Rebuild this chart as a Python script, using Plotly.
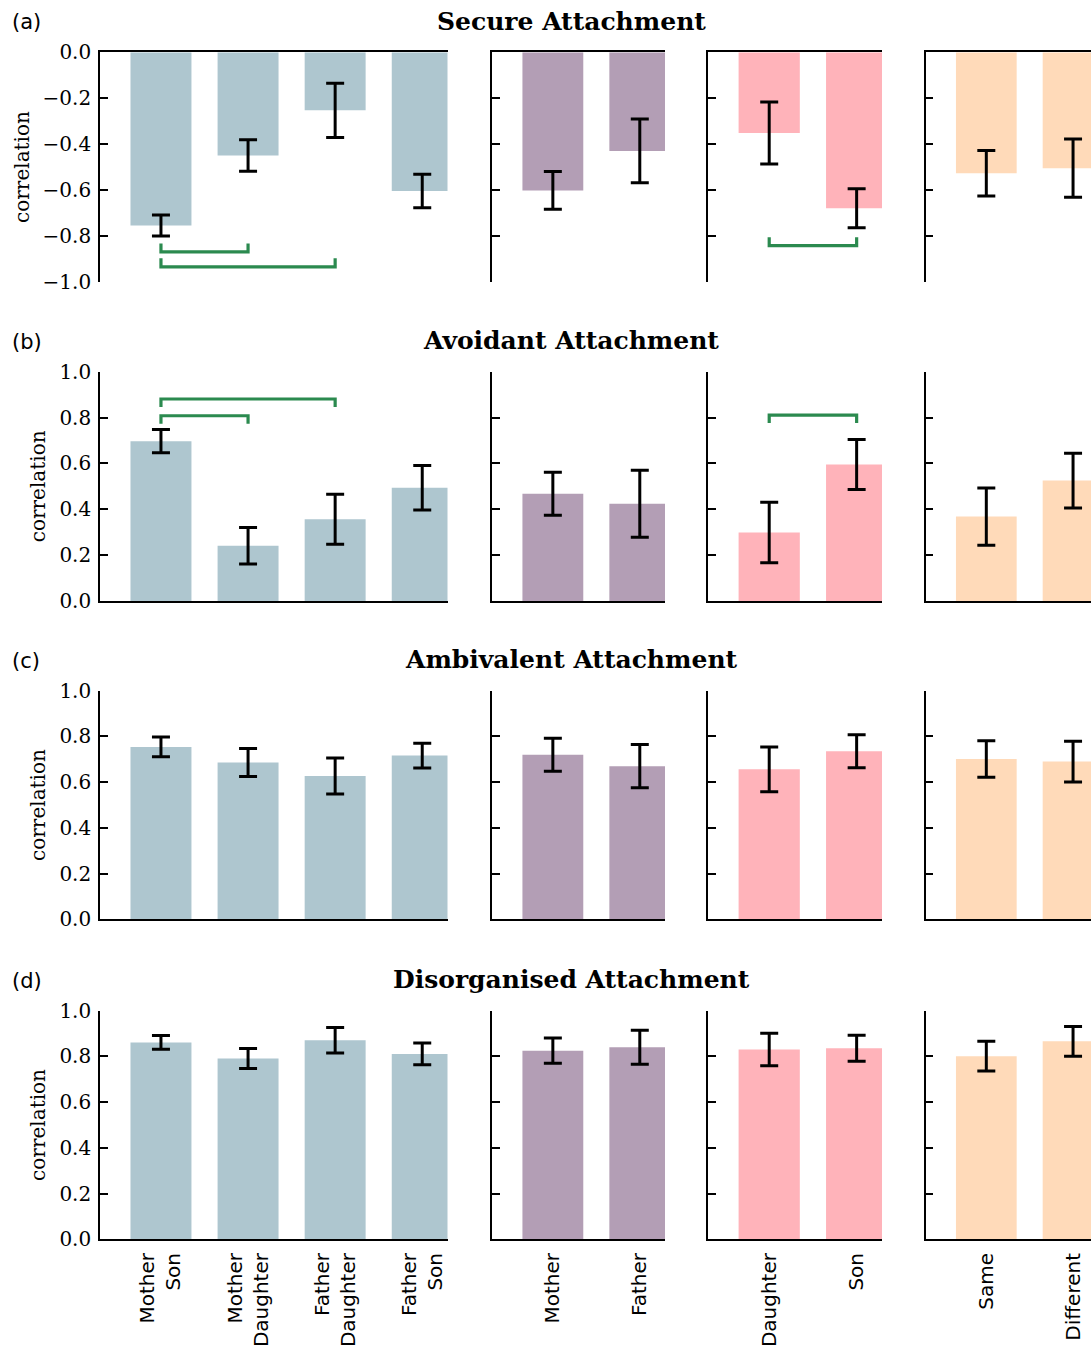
import plotly.graph_objects as go

# ---------------- data ----------------
ROW_TITLES = ["Secure Attachment", "Avoidant Attachment",
              "Ambivalent Attachment", "Disorganised Attachment"]
PANEL_LABELS = ["(a)", "(b)", "(c)", "(d)"]

NB = "\u00a0"
GROUP_LABELS = [
    ["Mother<br>Son", NB * 4 + "Mother<br>Daughter", NB * 5 + "Father<br>Daughter", "Father<br>Son"],
    ["Mother", "Father"],
    ["Daughter", "Son"],
    ["Same", "Different"],
]

# mean correlations per row (attachment style) and column (grouping)
secure_means = [[-0.755, -0.450, -0.253, -0.605], [-0.602, -0.430], [-0.352, -0.680], [-0.527, -0.505]]
secure_errs = [[0.046, 0.069, 0.118, 0.073], [0.082, 0.139], [0.135, 0.085], [0.099, 0.127]]

avoidant_means = [[0.697, 0.241, 0.357, 0.494], [0.468, 0.424], [0.299, 0.595], [0.368, 0.525]]
avoidant_errs = [[0.051, 0.080, 0.109, 0.097], [0.094, 0.146], [0.132, 0.109], [0.125, 0.119]]

ambivalent_means = [[0.754, 0.686, 0.627, 0.716], [0.720, 0.670], [0.656, 0.735], [0.701, 0.690]]
ambivalent_errs = [[0.043, 0.061, 0.079, 0.054], [0.072, 0.095], [0.098, 0.072], [0.080, 0.089]]

disorganised_means = [[0.861, 0.791, 0.871, 0.811], [0.825, 0.840], [0.830, 0.836], [0.801, 0.866]]
disorganised_errs = [[0.030, 0.044, 0.056, 0.048], [0.055, 0.074], [0.071, 0.057], [0.065, 0.065]]

ALL_MEANS = [secure_means, avoidant_means, ambivalent_means, disorganised_means]
ALL_ERRS = [secure_errs, avoidant_errs, ambivalent_errs, disorganised_errs]

# significance brackets: (row, col, bar_i, bar_j, level)
BRACKETS = [
    (0, 0, 0, 1, -0.870), (0, 0, 0, 2, -0.935), (0, 2, 0, 1, -0.843),
    (1, 0, 0, 1, 0.808), (1, 0, 0, 2, 0.881), (1, 2, 0, 1, 0.811),
]

Y_TICKS_NEG = [-1.0, -0.8, -0.6, -0.4, -0.2, 0.0]
Y_TICKS_POS = [0.0, 0.2, 0.4, 0.6, 0.8, 1.0]

# ---------------- styling / layout ----------------
COLORS = ["#aec6cf", "#b39eb5", "#ffb3ba", "#ffdab9"]
GREEN = "#2b8a4f"
W, H = 1091, 1353

COL_PX = [(100, 447.5), (492, 665), (708, 882), (925.6, 1091)]
COL_RANGE = [(-0.70, 3.29), (-0.70, 1.29), (-0.70, 1.29), (-0.70, 1.207)]
ROW_PX = [(52.3, 281.7), (371.7, 601.0), (690.7, 919.3), (1010.7, 1239.2)]

SERIF = "DejaVu Serif"
SANS = "DejaVu Sans"

fig = go.Figure()
layout = dict(
    template="none",
    width=W, height=H, margin=dict(l=0, r=0, t=0, b=0, pad=0),
    plot_bgcolor="white", paper_bgcolor="white", showlegend=False,
    annotations=[],
)

for r in range(4):
    for c in range(4):
        idx = r * 4 + c + 1
        xname = "x" if idx == 1 else f"x{idx}"
        yname = "y" if idx == 1 else f"y{idx}"
        xkey = "xaxis" if idx == 1 else f"xaxis{idx}"
        ykey = "yaxis" if idx == 1 else f"yaxis{idx}"
        means = ALL_MEANS[r][c]
        errs = ALL_ERRS[r][c]
        pos = list(range(len(means)))
        fig.add_trace(go.Bar(
            x=pos, y=means, width=0.7,
            marker=dict(color=COLORS[c], line=dict(width=0)),
            error_y=dict(type="data", array=errs, color="black",
                         thickness=3, width=9),
            xaxis=xname, yaxis=yname, hoverinfo="skip",
        ))
        x0, x1 = COL_PX[c]
        yt, yb = ROW_PX[r]
        layout[xkey] = dict(
            domain=[x0 / W, x1 / W], range=list(COL_RANGE[c]),
            anchor=yname, side="top" if r == 0 else "bottom",
            showline=True, linecolor="black", linewidth=1.6,
            showgrid=False, zeroline=False, ticks="", automargin=False,
            tickvals=pos, ticktext=GROUP_LABELS[c],
            showticklabels=(r == 3), tickangle=-90,
            tickfont=dict(family=SANS, size=20, color="black"),
            ticklabelstandoff=4,
        )
        ticks = Y_TICKS_NEG if r == 0 else Y_TICKS_POS
        ydict = dict(
            domain=[1 - yb / H, 1 - yt / H],
            range=[-1.0, 0.0] if r == 0 else [0.0, 1.0],
            anchor=xname, showline=True, linecolor="black", linewidth=1.6,
            showgrid=False, zeroline=False, automargin=False,
            ticks="inside", ticklen=8, tickwidth=1.6, tickcolor="black",
            tickvals=ticks, tickformat=".1f",
            showticklabels=(c == 0), ticklabelstandoff=3,
            tickfont=dict(family=SERIF, size=20, color="black"),
        )
        if c == 0:
            ydict["title"] = dict(text="correlation", standoff=8,
                                  font=dict(family=SERIF, size=20, color="black"))
        layout[ykey] = ydict

# significance brackets
for (r, c, i, j, level) in BRACKETS:
    idx = r * 4 + c + 1
    xname = "x" if idx == 1 else f"x{idx}"
    yname = "y" if idx == 1 else f"y{idx}"
    tip = 0.037 if level < 0 else -0.035
    fig.add_trace(go.Scatter(
        x=[i, i, j, j], y=[level + tip, level, level, level + tip],
        mode="lines", line=dict(color=GREEN, width=3.2),
        xaxis=xname, yaxis=yname, hoverinfo="skip", cliponaxis=False,
    ))

# row titles and panel labels
for r in range(4):
    yt, _ = ROW_PX[r]
    layout["annotations"].append(dict(
        text="<b>" + ROW_TITLES[r] + "</b>", x=571 / W, y=1 - (yt - 31) / H,
        xref="paper", yref="paper", xanchor="center", yanchor="middle",
        showarrow=False, font=dict(family=SERIF, size=25, color="black"),
    ))
    layout["annotations"].append(dict(
        text=PANEL_LABELS[r], x=10 / W, y=1 - (yt - 30) / H,
        xref="paper", yref="paper", xanchor="left", yanchor="middle",
        showarrow=False, font=dict(family=SANS, size=21, color="black"),
    ))

fig.update_layout(**layout)
fig.write_html(
    "out.html",
    config={"displayModeBar": False},
    post_script="document.body.style.margin='0px';document.body.style.overflow='hidden';",
)
